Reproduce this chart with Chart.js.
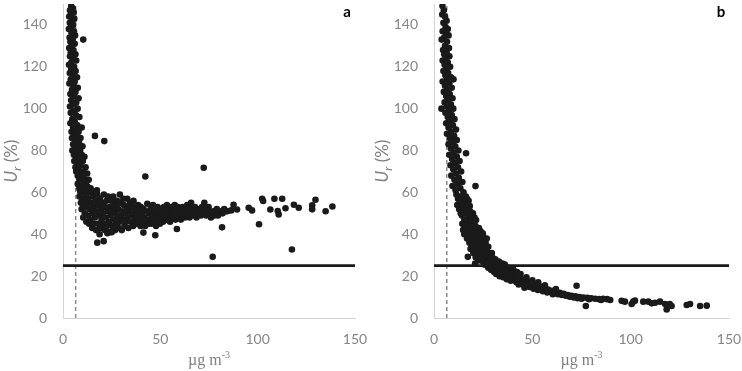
<!DOCTYPE html>
<html>
<head>
<meta charset="utf-8">
<script src="https://cdn.jsdelivr.net/npm/chart.js@4.4.1/dist/chart.umd.min.js"></script>
<style>
  body { margin: 0; background: #fff; }
  .wrap { display: flex; width: 742px; height: 371px; }
  canvas { display: block; }
</style>
</head>
<body>
<div class="wrap">
  <canvas id="chartA" width="371" height="371"></canvas>
  <canvas id="chartB" width="371" height="371"></canvas>
</div>
<script>
// tick labels
const xTicks = [0, 50, 100, 150];
const yTicks = [0, 20, 40, 60, 80, 100, 120, 140];

// reference lines: target uncertainty (%) and detection limit (ug m-3)
const limitY = 25;
const lodX = 6.5;

// panel a: measured points [concentration, Ur %]
const aStreak = [
  [4.2,149],[5.0,148],[3.6,147],[5.5,146],[4.1,145],[3.2,144],[5.8,143],[4.6,142],[3.5,141],[5.2,140],
  [4.0,139],[3.0,138],[5.6,137],[4.4,136],[6.2,135],[3.4,134],[5.0,133],[3.8,132],[6.0,131],[4.5,130],
  [3.2,129],[5.3,128],[4.0,127],[6.4,126],[3.6,125],[5.0,124],[6.8,123],[4.3,122],[3.1,121],[5.7,120],
  [4.2,119],[6.5,118],[3.5,117],[5.0,116],[7.2,115],[4.0,114],[6.0,113],[3.3,112],[5.4,111],[7.6,110],
  [4.6,109],[6.4,108],[3.8,107],[5.6,106],[8.0,105],[4.2,104],[6.8,103],[5.0,102],[3.6,101],[7.5,100],
  [5.4,99],[4.0,98],[6.6,97],[8.4,96],[4.8,95],[6.0,94],[3.8,93],[7.4,92],[5.2,91],[9.6,91],[6.5,90],
  [4.4,89],[8.0,89],[5.8,88],[7.0,87],[4.6,86],[9.0,86],[6.2,85],[8.2,84],[5.2,83],[7.2,82],[10.0,82],[6.0,81],[8.8,80],[4.8,80],
  [7.4,79],[5.6,78],[9.6,78],[6.8,77],[11.0,77],[8.2,76],[5.8,75],[10.2,75],[7.2,74],[9.0,73],[6.4,72],[11.6,72],[8.0,71],[10.4,70],[6.8,70],
  [9.0,69],[12.4,69],[7.6,68],[10.6,67],[8.4,66],[13.2,66],[11.0,65],[7.6,64],[9.6,63],[12.4,63],[14.2,62],[8.4,62],[10.8,61],[13.0,60],[9.0,60],[15.2,60]
];
const aCluster = [
  [8.5,58],[9.2,55],[10.0,57],[9.6,52],[10.8,54],[11.2,50],[11.6,56],[10.4,48],[12.0,46],[12.2,53],[11.8,59],[8.8,61],
  [12.8,49],[13.0,57],[13.4,45],[13.8,52],[14.2,60],[14.0,47],[14.6,55],[15.0,43],[15.2,50],[15.6,58],[15.8,45],[13.2,62],[16.0,53],[12.6,55],
  [16.4,48],[16.8,56],[17.0,42],[17.2,51],[17.6,59],[18.0,45],[18.2,54],[18.6,49],[19.0,57],[19.2,43],[19.6,52],[19.8,47],[17.4,61],[18.8,40],
  [20.2,55],[20.4,50],[20.8,45],[21.0,59],[21.4,42],[21.6,53],[22.0,48],[22.4,56],[22.6,44],[23.0,51],[23.2,58],[23.6,46],[24.0,53],[24.0,41],[22.8,40.5],
  [24.4,49],[24.8,56],[25.2,44],[25.4,51],[25.8,58],[26.0,47],[26.4,54],[26.8,42],[27.0,50],[27.4,45],[27.8,56],[28.0,48],[25.0,41],[27.2,53],
  [28.4,52],[28.6,43],[29.0,46],[29.4,55],[29.8,49],[30.2,42],[30.4,51],[30.8,47],[31.2,54],[31.6,44],[32.0,50],[29.2,59],[31.0,57],
  [32.4,46],[32.8,53],[33.2,48],[33.6,43],[34.0,51],[34.4,55],[34.8,46],[35.2,49],[35.6,53],[36.0,44],[36.2,56],[33.0,57],[36.0,55.5],
  [36.6,50],[37.0,47],[37.4,52],[37.8,45],[38.2,49],[38.6,54],[39.0,47],[39.4,51],[39.8,44],[40.0,53]
];
const aBand = [
  [40.6,49],[41.0,46],[41.4,52],[41.8,48],[42.2,44],[42.6,51],[43.0,47],[43.3,54.6],[43.8,45],[44.2,50],[44.6,47],[45.0,52],[45.4,45],[45.8,49],
  [46.2,54],[46.6,46],[47.0,51],[47.4,48],[47.8,44],[48.2,50],[48.6,53],[49.0,47],[49.4,49],[49.8,45],
  [50.2,52],[50.6,48],[51.0,50],[51.4,46],[51.8,53],[52.2,49],[52.6,51],[53.0,47],[53.4,54],[53.8,50],[54.2,48],[54.6,52],[55.0,46],
  [55.4,50],[55.8,53],[56.2,48],[56.6,51],[57.0,49],[57.4,54],[57.8,47],[58.2,51],[58.6,49],[59.0,53],[59.4,48],[59.8,50],
  [60.2,52],[60.6,47],[61.0,50],[61.4,53],[61.8,49],[62.2,51],[62.6,48],[63.0,52],[63.4,50],[63.8,54],[64.2,49],[64.6,51],
  [65.0,48],[65.4,52],[65.8,55],[66.2,50],[66.6,52],[67.0,49],[67.4,51],[67.8,53],[68.2,50],[68.6,48],[69.0,52],[69.6,50],
  [70.2,51],[70.8,49],[71.4,53],[72.0,50],[72.6,55],[73.0,52],[73.6,49],[74.2,51],[74.8,53],[75.4,50],[76.0,48],[76.6,49],
  [77.2,51],[77.8,49],[78.4,50],[79.0,52],[79.6,49],[80.4,50],[81.2,51],[82.0,50],[82.8,52],[83.6,51],[84.4,51]
];
const aTail = [
  [86.4,51.4],[87.6,54.1],[89.4,51.8],[95.4,52.7],[97.1,51.4],[102.3,57],[102.8,55.9],[106.5,51.8],[108.6,57],[110.3,51.1],
  [110.8,49.5],[112.6,57],[114.3,52.4],[118.6,54.1],[121.1,52.7],[128,53.8],[128,51.9],[129.7,56.5],[134.9,51],[138.4,53.3]
];
const aOutliers = [
  [10.4,133],[16.4,87],[21.2,84.5],[42.3,67.6],[72.3,71.8],[17.6,36],[20.9,36.7],[76.9,29.2],[117.6,32.7],
  [81.7,43.3],[100.7,44.8],[58.5,42.5],[41.3,40.8],[47.4,39.5]
];

// panel b: measured points [concentration, Ur %]
const bUpper = [
  [4.3,149],[5.0,147],[4.2,145],[5.6,144],[6.4,142],[4.8,141],[5.9,139],[7.0,138],[4.4,137],[6.2,136],[7.4,135],[5.2,134],[3.9,133],[6.6,132],
  [5.6,130],[7.6,129],[4.6,128],[6.4,127],[5.2,126],[7.8,125],[6.0,124],[4.4,123],[7.0,122],[5.4,121],[8.2,120],[6.4,119],[4.8,118],[7.2,117],
  [5.8,116],[8.6,115],[6.6,114],[4.4,113],[7.8,112],[5.6,111],[9.0,110],[6.8,109],[5.0,108],[8.0,107],[6.2,106],[9.4,105],[7.2,104],[5.4,103],
  [8.6,102],[6.6,101],[3.8,100],[9.8,100],[7.6,99],[5.8,98],[9.0,97],[7.0,96],[10.4,95],[8.2,94],[6.2,93],[9.6,92],[7.4,91],[11.2,90],
  [8.6,89],[6.6,88],[10.2,87],[8.0,86],[11.6,85],[9.4,84],[7.4,83],[10.8,82],[8.6,81],[12.4,80],[10.0,79],[7.8,78],[11.6,77],[9.2,76],
  [13.0,75],[10.6,74],[8.4,73],[12.2,72],[9.8,71],[13.8,70],[11.2,69],[8.8,68],[12.6,67],[10.4,66],[14.4,65],[12.0,64],[9.4,63],[13.4,62],[11.0,61],[15.0,60]
];
const bMid = [
  [11.4,59],[13.8,58],[16.2,58],[12.2,57],[15.0,56],[17.6,56],[13.0,55],[16.0,54],[11.8,54],[14.4,53],[17.2,53],[12.8,52],[15.6,51],[18.4,51],[13.6,50],[16.6,50],[19.2,49],
  [14.2,49],[17.6,48],[15.4,47],[18.6,47],[20.2,46],[16.2,46],[14.4,45],[19.4,45],[17.2,44],[21.0,44],[15.6,43],[18.4,43],[20.2,42],[16.8,42],[22.2,42],[19.0,41],[17.6,40],[21.4,40],[23.4,40],
  [18.2,39],[20.2,39],[22.6,38],[16.8,38],[19.2,37],[21.6,37],[24.2,37],[18.0,36],[20.6,36],[23.0,35],[25.6,35],[19.4,34],[22.0,34],[24.4,33],[18.6,33],[26.6,33],
  [21.0,32],[23.4,32],[20.0,31],[25.8,31],[28.0,31],[22.4,30],[24.8,30],[27.2,29],[21.2,29],[29.6,29],[23.6,28],[26.0,28],[30.6,27],[24.8,27],[28.4,27],[22.6,27.5],
  [27.0,26],[32.0,26],[25.6,25.5],[29.6,25],[33.6,25],[31.0,24],[27.6,24],[35.4,24],[36.0,25.5],
  [25.0,39],[26.2,36],[27.6,34],[15.4,40],[14.8,42],[29.4,31],[31.2,28],[33.0,27],[34.8,26],[26.8,38],[24.8,40.5],[22.8,43],
  [20.6,48],[19.8,50],[21.4,46.8],[18.2,53.5],[16.8,57],[23.6,41.5]
];
const bLower = [
  [29.0,23],[32.6,23],[37.0,23],[30.6,22],[34.4,22],[38.6,22],[31.6,21],[36.2,21],[40.0,21],[33.4,20],[37.8,20],[42.0,20],[35.2,19.5],[39.6,19],[44.0,19],
  [41.2,18.5],[37.0,18.5],[43.0,18],[46.0,18],[39.0,17.8],[45.0,17],[48.0,17],[41.8,17.2],[47.0,16.5],[50.0,16.4],[44.2,16.3],[49.0,15.8],[52.0,15.6],
  [46.4,15.2],[51.0,15],[54.0,15],[48.6,14.8],[53.0,14.4],[56.0,14.2],[50.6,14],[55.0,13.8],[58.0,13.6],[52.8,13.4],[57.0,13.2],[60.0,13],
  [55.4,12.8],[59.0,12.6],[62.0,12.5],[61.0,11.9],[64.0,12],[57.6,12.2],[63.0,11.4],[66.0,11.6],[65.0,11],[68.0,11],[60.4,11.4],[67.0,10.6],
  [70.0,10.6],[69.0,10.2],[72.0,10.4],[74.0,10],[71.0,9.8],[76.0,9.8],[73.0,9.4],[78.0,9.6],[80.0,9.4],[75.0,9.2],[82.0,9.2],[78.8,9.0],
  [84.0,9.0],[86.0,9.2],[88.0,9.0],[85.0,8.6],[89.6,8.6],
  [38.0,24],[40.4,23],[42.2,22],[44.0,21],[47.0,19.5],[50.0,18],[53.0,17],[43.0,16],[46.0,14.5],[56.4,15.6],[62.0,13.8]
];
const bTail = [
  [95.4,8.2],[97.1,7.8],[100.5,6.7],[101.3,7.8],[102.2,8.3],[106.4,7.8],[109,7.8],[110.7,7],[112.4,7.3],[114.9,7.8],
  [117.5,6.7],[118.3,4.1],[119.9,6.7],[120.8,5.7],[128.5,6.2],[130.2,6.7],[135.3,5.7],[138.7,5.9]
];
const bOutliers = [
  [72.5,15.4],[77.2,5.7],[21.1,63],[16.3,78.7],[9.9,114],[17.2,29.2],[20.9,26]
];

const toXY = arr => arr.map(p => ({ x: p[0], y: p[1] }));

// axis titles + panel letter
const panelText = {
  id: 'panelText',
  afterDraw(chart, args, opts) {
    const { ctx, chartArea } = chart;
    ctx.save();
    ctx.fillStyle = '#808080';
    ctx.textBaseline = 'middle';

    // y title: U_r (%)
    ctx.save();
    ctx.translate(12, (chartArea.top + chartArea.bottom) / 2);
    ctx.rotate(-Math.PI / 2);
    const f1 = 'italic 17px Lato';
    const f2 = 'italic 12px Lato';
    const f3 = '17px Lato';
    ctx.font = f1; const w1 = ctx.measureText('U').width;
    ctx.font = f2; const w2 = ctx.measureText('r').width;
    ctx.font = f3; const w3 = ctx.measureText(' (%)').width;
    let x0 = -(w1 + w2 + w3) / 2;
    ctx.textAlign = 'left';
    ctx.font = f1; ctx.fillText('U', x0, 0);
    ctx.font = f2; ctx.fillText('r', x0 + w1, 5);
    ctx.font = f3; ctx.fillText(' (%)', x0 + w1 + w2, 0);
    ctx.restore();

    // x title: ug m-3
    const g1 = '16px "Liberation Serif"';
    const g2 = '10px "Liberation Serif"';
    ctx.font = g1; const v1 = ctx.measureText('\u00b5g m').width;
    ctx.font = g2; const v2 = ctx.measureText('-3').width;
    let xs = (chartArea.left + chartArea.right) / 2 - (v1 + v2) / 2;
    ctx.textAlign = 'left';
    ctx.font = g1; ctx.fillText('\u00b5g m', xs, 361);
    ctx.font = g2; ctx.fillText('-3', xs + v1, 355);

    // panel letter
    ctx.fillStyle = '#000';
    ctx.font = 'bold 15px Lato';
    ctx.textAlign = 'center';
    ctx.fillText(opts.letter, opts.letterX, 12);
    ctx.restore();
  }
};

function makeChart(id, points, letter, letterX, rightPad) {
  return new Chart(document.getElementById(id), {
    type: 'scatter',
    data: {
      datasets: [
        {
          data: toXY(points),
          backgroundColor: '#1a1a1a',
          borderWidth: 0,
          pointRadius: 3.3,
          order: 1
        },
        {
          data: [{ x: xTicks[0], y: limitY }, { x: xTicks[xTicks.length - 1], y: limitY }],
          showLine: true,
          borderColor: '#1a1a1a',
          borderWidth: 2.6,
          pointRadius: 0,
          order: 0
        },
        {
          data: [{ x: lodX, y: 0 }, { x: lodX, y: 150 }],
          showLine: true,
          borderColor: '#8a8a8a',
          borderWidth: 1.5,
          borderDash: [4, 3],
          pointRadius: 0,
          order: 2
        }
      ]
    },
    options: {
      responsive: false,
      animation: false,
      devicePixelRatio: 1,
      layout: { padding: { top: 3, right: rightPad, left: 0, bottom: 0 } },
      plugins: {
        legend: { display: false },
        tooltip: { enabled: false },
        panelText: { letter, letterX }
      },
      scales: {
        x: {
          type: 'linear',
          min: 0,
          max: 150,
          grid: { display: false, drawTicks: false },
          border: { display: true, color: '#d4d4d4', width: 1 },
          ticks: { color: '#868686', font: { family: 'Lato', size: 14 }, padding: 13 },
          afterBuildTicks: s => { s.ticks = xTicks.map(v => ({ value: v })); },
          afterFit: s => { s.height = 53; s.paddingLeft = 0; s.paddingRight = 0; }
        },
        y: {
          type: 'linear',
          min: 0,
          max: 150,
          grid: { display: false, drawTicks: false },
          border: { display: true, color: '#d4d4d4', width: 1 },
          ticks: { color: '#868686', font: { family: 'Lato', size: 14 }, padding: 16 },
          afterBuildTicks: s => { s.ticks = yTicks.map(v => ({ value: v })); },
          afterFit: s => { s.width = 63; s.paddingTop = 0; s.paddingBottom = 0; }
        }
      }
    },
    plugins: [panelText]
  });
}

makeChart('chartA', [...aStreak, ...aCluster, ...aBand, ...aTail, ...aOutliers], 'a', 347, 16);
makeChart('chartB', [...bUpper, ...bMid, ...bLower, ...bTail, ...bOutliers], 'b', 350, 13);
</script>
</body>
</html>
